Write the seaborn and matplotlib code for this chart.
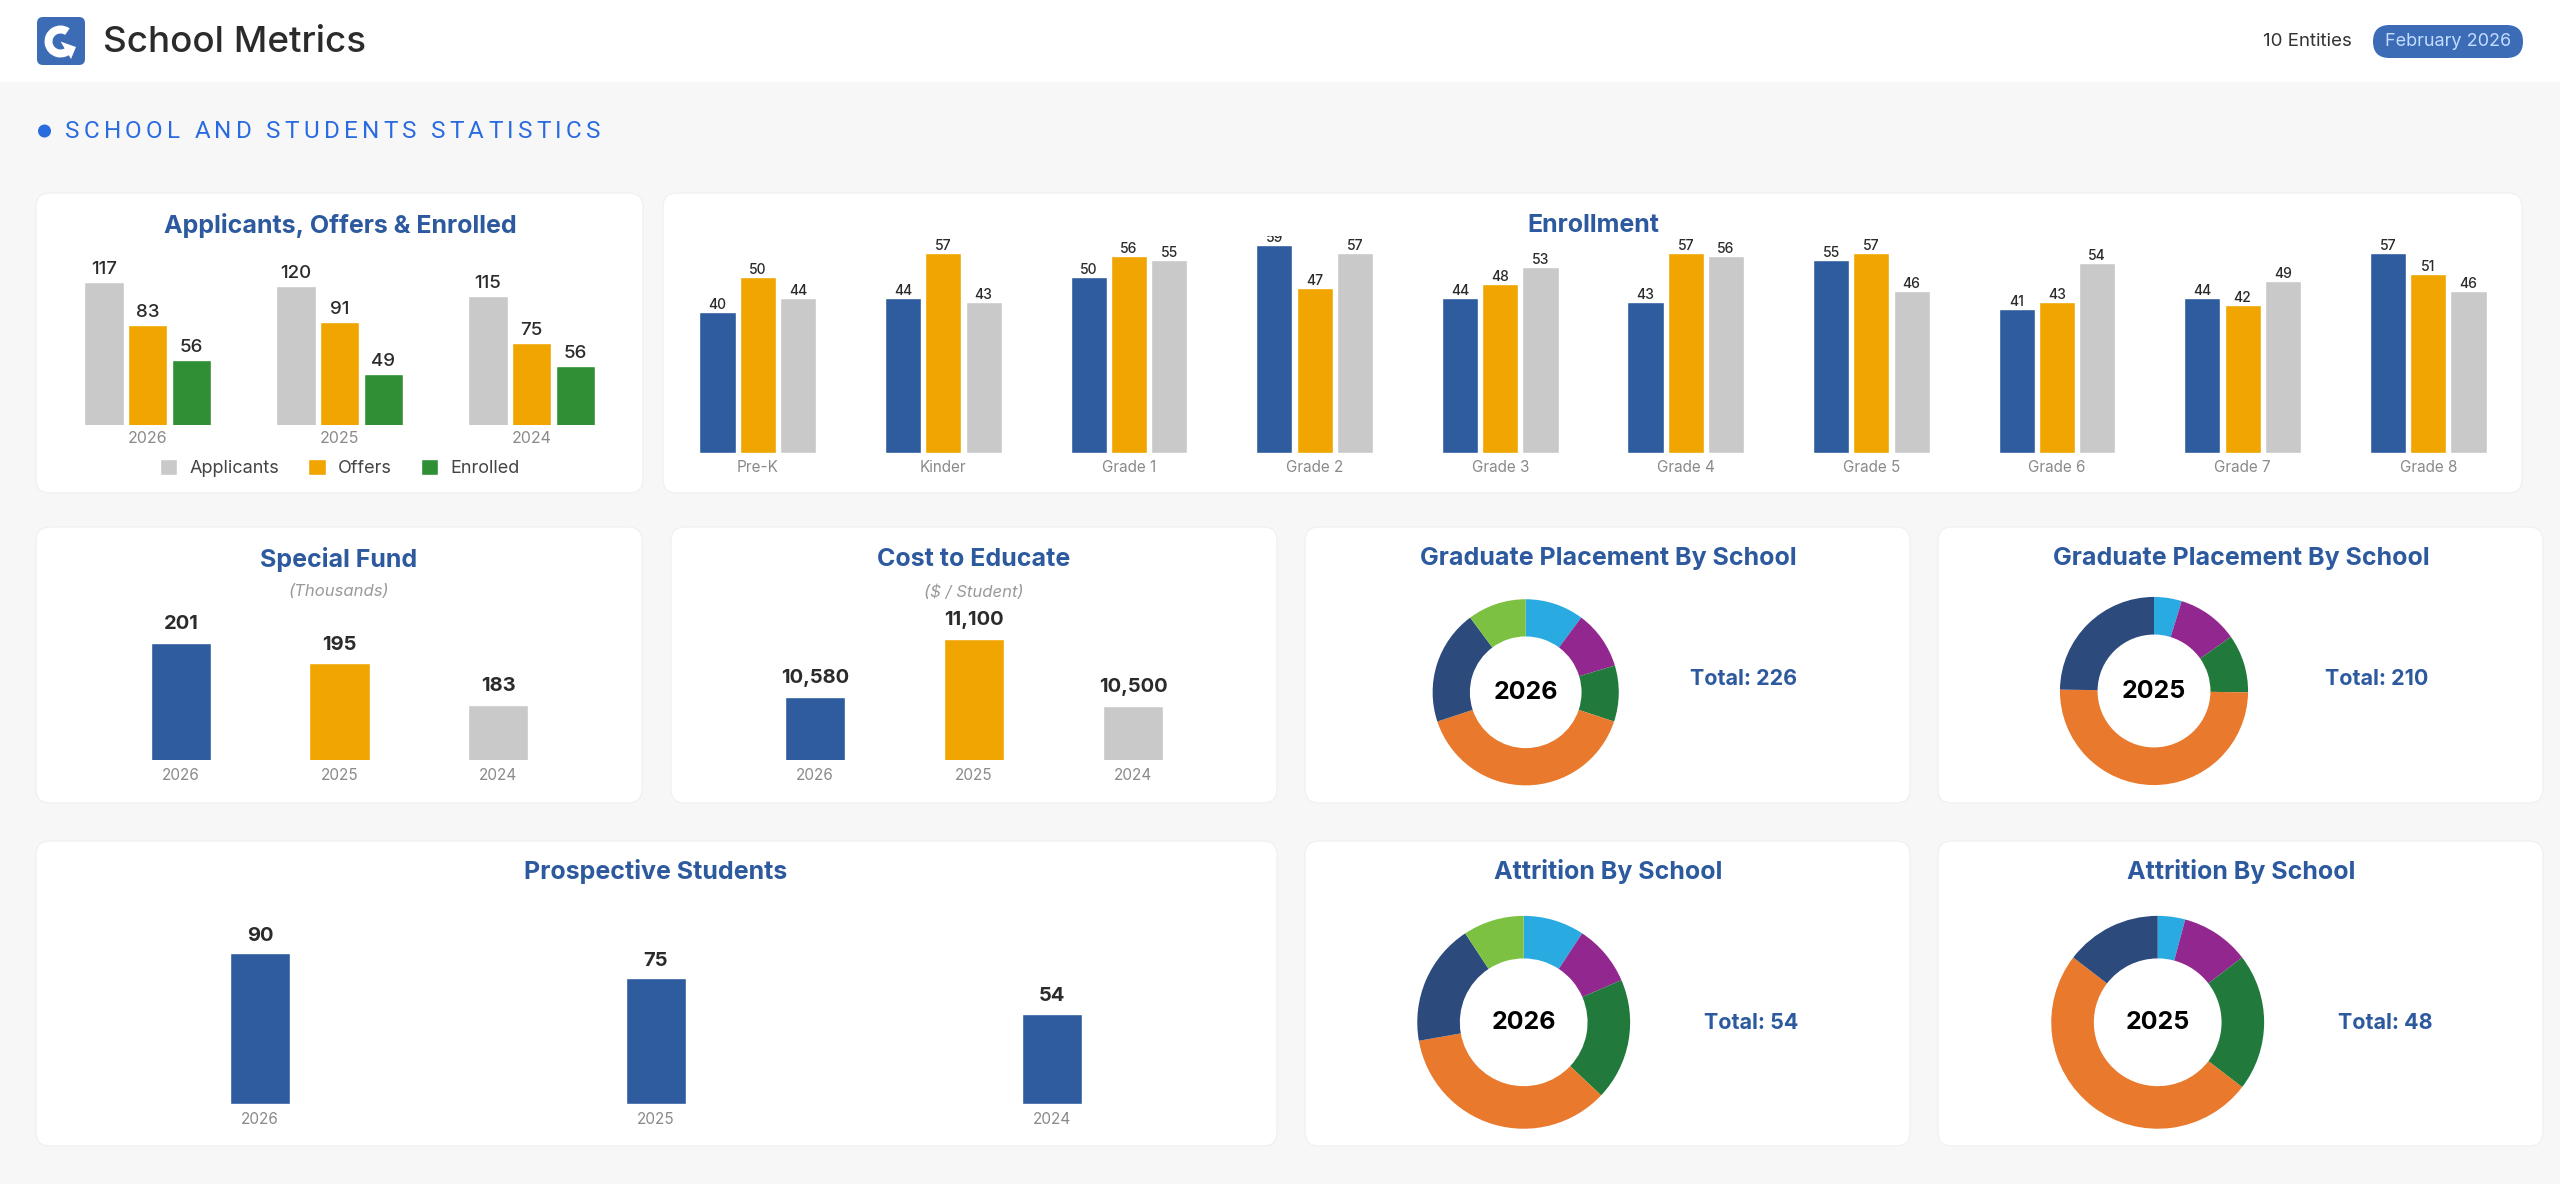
import pandas as pd
import matplotlib
matplotlib.use("Agg")
import matplotlib.pyplot as plt
import seaborn as sns
from matplotlib.patches import FancyBboxPatch, Wedge, Polygon, Circle, Patch

W, H = 2560, 1184

# ---- data ----
years = ["2026", "2025", "2024"]
ape_series = ["Applicants", "Offers", "Enrolled"]
applicants = [117, 120, 115]
offers = [83, 91, 75]
enrolled = [56, 49, 56]

grades = ["Pre-K", "Kinder", "Grade 1", "Grade 2", "Grade 3",
          "Grade 4", "Grade 5", "Grade 6", "Grade 7", "Grade 8"]
enroll_2026 = [40, 44, 50, 59, 44, 43, 55, 41, 44, 57]
enroll_2025 = [50, 57, 56, 47, 48, 57, 57, 43, 42, 51]
enroll_2024 = [44, 43, 55, 57, 53, 56, 46, 54, 49, 46]

special_fund = [201, 195, 183]
cost_to_educate = [10580, 11100, 10500]
prospective = [90, 75, 54]

schools = ["School 1", "School 2", "School 3", "School 4", "School 5", "School 6"]
grad_2026 = [23, 23, 22, 90, 45, 23]
grad_2025 = [10, 22, 21, 105, 52, 0]
attr_2026 = [5, 5, 10, 19, 10, 5]
attr_2025 = [2, 5, 10, 24, 7, 0]

# ---- style ----
BLUE = "#2e5c9e"
ORANGE = "#f0a500"
GRAY = "#c9c9c9"
GREEN = "#2f8f35"
TITLE = "#2d5a9e"
DARK = "#2b2b2b"
TICK = "#8a8a8a"
donut_colors = ["#29abe2", "#92278f", "#217a3c", "#e8792d", "#2c4a7c", "#7dc142"]

sns.set_theme(style="white")
plt.rcParams["font.family"] = ["Inter", "DejaVu Sans"]

fig = plt.figure(figsize=(W / 100, H / 100), dpi=100)
fig.patch.set_facecolor("#f7f7f7")
renderer = fig.canvas.get_renderer()


def px_axes(x0, y0, x1, y1):
    ax = fig.add_axes([x0 / W, 1 - y1 / H, (x1 - x0) / W, (y1 - y0) / H])
    ax.patch.set_alpha(0)
    return ax


# background layer in pixel coordinates
bg = px_axes(0, 0, W, H)
bg.set_xlim(0, W)
bg.set_ylim(H, 0)
bg.axis("off")

bg.add_patch(plt.Rectangle((0, 0), W, 82, color="white", lw=0))

# logo
bg.add_patch(FancyBboxPatch((37, 17), 48, 48, boxstyle="round,pad=0,rounding_size=6",
                            fc="#3b6cb5", ec="none"))
bg.add_patch(Wedge((60.5, 41.5), 16, 35, 305, width=8, fc="white", ec="none"))
bg.add_patch(Polygon([(60.5, 41.5), (71, 59), (76, 47)], closed=True, fc="white", ec="none"))
bg.text(103, 42, "School Metrics", fontsize=26.5, fontweight="medium", color="#2b2b2b",
        va="center", ha="left")

bg.text(2352, 42, "10 Entities", fontsize=13.5, color="#333333", va="center", ha="right")
bg.add_patch(FancyBboxPatch((2373, 25), 150, 33, boxstyle="round,pad=0,rounding_size=16.5",
                            fc="#3b6cb5", ec="none"))
bg.text(2448, 42, "February 2026", fontsize=13, color="#c4dcff", va="center", ha="center")

# section heading with letter spacing
bg.add_patch(Circle((44.5, 131), 6.5, fc="#2b6be0", ec="none"))
heading = "SCHOOL AND STUDENTS STATISTICS"
hkw = dict(fontsize=17.5, color="#2b6be0", va="center", ha="left", family=["Roboto", "DejaVu Sans"])


def text_width(s):
    t = bg.text(0, 0, s, **hkw)
    w = t.get_window_extent(renderer).width
    t.remove()
    return w


natural = text_width(heading)
spacing = (535 - natural) / (len(heading) - 1)
ref_w = text_width("X")
for i, ch in enumerate(heading):
    if ch == " ":
        continue
    x = 65 + text_width(heading[:i] + "X") - ref_w + i * spacing
    bg.text(x, 131, ch, **hkw)

panels = [(36, 193, 643, 493), (663, 193, 2522, 493),
          (36, 527, 642, 803), (671, 527, 1277, 803),
          (1305, 527, 1910, 803), (1938, 527, 2543, 803),
          (36, 841, 1277, 1146), (1305, 841, 1910, 1146), (1938, 841, 2543, 1146)]
for x0, y0, x1, y1 in panels:
    bg.add_patch(FancyBboxPatch((x0, y0), x1 - x0, y1 - y0,
                                boxstyle="round,pad=0,rounding_size=14",
                                fc="white", ec="#efefef", lw=0.8))

titles = [("Applicants, Offers & Enrolled", 340, 225), ("Enrollment", 1593, 225),
          ("Special Fund", 339, 559), ("Cost to Educate", 974, 559),
          ("Graduate Placement By School", 1608, 559), ("Graduate Placement By School", 2241, 559),
          ("Prospective Students", 656, 871), ("Attrition By School", 1608, 872),
          ("Attrition By School", 2241, 872)]
for s, x, y in titles:
    bg.text(x, y, s, fontsize=18, fontweight="bold", color=TITLE, ha="center", va="center")
bg.text(339, 592, "(Thousands)", fontsize=12, style="italic", color="#9a9a9a", ha="center", va="center")
bg.text(974, 592, "($ / Student)", fontsize=12, style="italic", color="#9a9a9a", ha="center", va="center")


def clean(ax, labelsize=11, pad=5):
    sns.despine(ax=ax, left=True, bottom=True)
    ax.set_yticks([])
    ax.set_xlabel("")
    ax.set_ylabel("")
    ax.tick_params(axis="x", length=0, labelsize=labelsize, labelcolor=TICK, pad=pad)


# ---- Applicants, Offers & Enrolled (one small axes per year) ----
ape_centers = [147.6, 339.7, 531.6]
ape_ylims = [(4.9, 142.0), (7.6, 149.0), (6.0, 153.7)]
for i, yr in enumerate(years):
    cx = ape_centers[i]
    ax = px_axes(cx - 65.7, 250, cx + 65.7, 425.3)
    df = pd.DataFrame({"series": ape_series,
                       "value": [applicants[i], offers[i], enrolled[i]]})
    sns.barplot(data=df, x="series", y="value", hue="series",
                palette=[GRAY, ORANGE, GREEN], width=0.9, saturation=1,
                legend=False, ax=ax)
    ax.set_ylim(*ape_ylims[i])
    for c in ax.containers:
        ax.bar_label(c, padding=3, fontsize=13.5, color=DARK, fontweight="medium")
    clean(ax, labelsize=11.5, pad=4)
    ax.set_xticks([1])
    ax.set_xticklabels([yr])

fig.legend(handles=[Patch(fc=GRAY, label="Applicants"), Patch(fc=ORANGE, label="Offers"),
                    Patch(fc=GREEN, label="Enrolled")],
           loc="center", bbox_to_anchor=(340 / W, 1 - 468 / H), ncol=3, frameon=False,
           fontsize=13, handlelength=0.95, handleheight=0.95, columnspacing=1.6,
           handletextpad=0.7, labelcolor="#444444")

# ---- Enrollment ----
df_en = pd.DataFrame({
    "grade": grades * 3,
    "year": [years[0]] * 10 + [years[1]] * 10 + [years[2]] * 10,
    "value": enroll_2026 + enroll_2025 + enroll_2024,
})
ax = px_axes(665, 236, 2521, 453)
sns.barplot(data=df_en, x="grade", y="value", hue="year", palette=[BLUE, ORANGE, GRAY],
            width=0.65, gap=0.1, saturation=1, legend=False, ax=ax)
ax.set_ylim(0, 61.7)
ax.set_xlim(-0.5, 9.5)
for c in ax.containers:
    ax.bar_label(c, padding=0, fontsize=10, color=DARK, fontweight="medium", clip_on=True)
clean(ax, labelsize=11, pad=5)


# ---- Special Fund / Cost to Educate / Prospective ----
def year_bars(values, x0, x1, y0, y1, ylim, width, colors, fmt, labelpad):
    ax = px_axes(x0, y0, x1, y1)
    df = pd.DataFrame({"year": years, "value": values})
    sns.barplot(data=df, x="year", y="value", hue="year", palette=colors,
                width=width, saturation=1, legend=False, ax=ax)
    ax.set_ylim(*ylim)
    ax.set_xlim(-0.5, 2.5)
    for c in ax.containers:
        ax.bar_label(c, fmt=fmt, padding=labelpad, fontsize=14.5, fontweight="bold", color=DARK)
    clean(ax, labelsize=11, pad=6)
    return ax


year_bars(special_fund, 101.75, 577.25, 610, 760, (166.85, 210.6), 0.38,
          [BLUE, ORANGE, GRAY], "{:,.0f}", 7)
year_bars(cost_to_educate, 735.5, 1212.5, 610, 760, (10010, 11359), 0.38,
          [BLUE, ORANGE, GRAY], "{:,.0f}", 7)
year_bars(prospective, 62, 1250, 930, 1104, (0, 103.9), 0.154,
          [BLUE, BLUE, BLUE], "{:,.0f}", 6)


# ---- donuts ----
def donut(values, cx, cy, r, center_label, tx, ty):
    ax = px_axes(cx - r, cy - r, cx + r, cy + r)
    ax.pie(values, colors=donut_colors, startangle=90, counterclock=False,
           wedgeprops=dict(width=0.4, linewidth=0))
    ax.set_xlim(-1.01, 1.01)
    ax.set_ylim(-1.01, 1.01)
    ax.text(0, 0, center_label, ha="center", va="center", fontsize=18,
            fontweight="bold", color="black")
    bg.text(tx, ty, f"Total: {sum(values)}", fontsize=15.5, fontweight="bold",
            color=TITLE, ha="center", va="center")


donut(grad_2026, 1525.7, 692.3, 94, "2026", 1744, 679)
donut(grad_2025, 2154, 691, 95, "2025", 2377, 679)
donut(attr_2026, 1523.7, 1022.3, 107.5, "2026", 1751, 1023)
donut(attr_2025, 2157.7, 1022.3, 107.5, "2025", 2385, 1023)

fig.savefig("out.png", dpi=100, facecolor=fig.get_facecolor())
